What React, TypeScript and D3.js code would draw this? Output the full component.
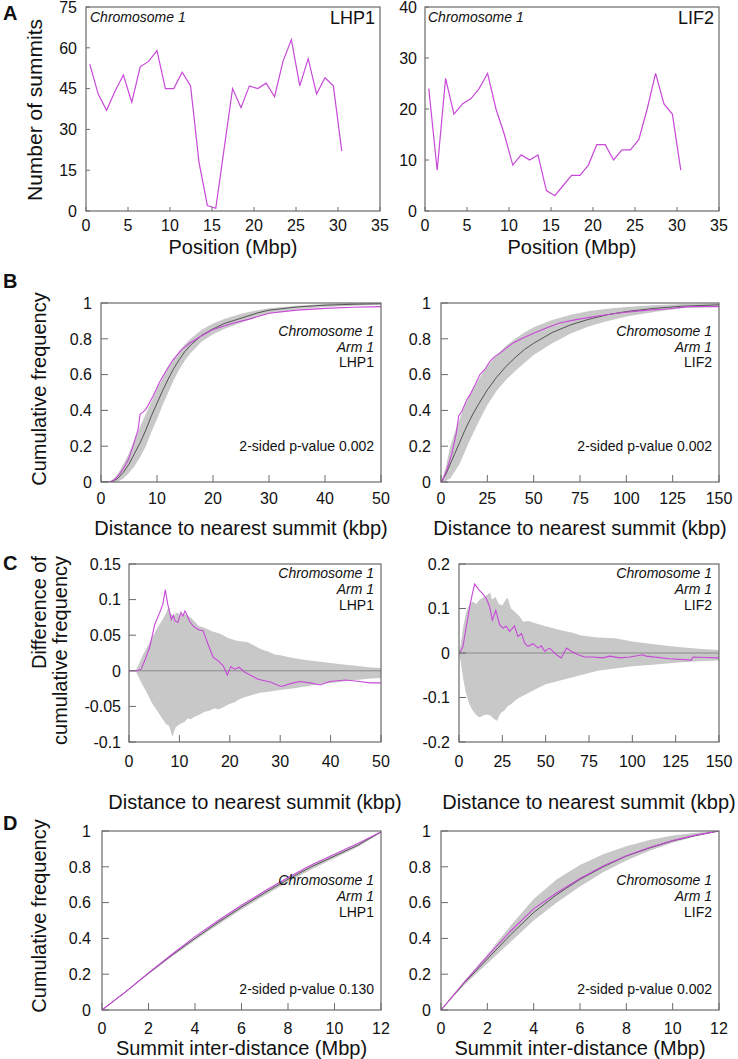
import React from "react";
import * as d3 from "d3";

const FONT = "'Liberation Sans', Arial, Helvetica, sans-serif";
const MAGENTA = "#c848d8";
const BAND = "#c8c8c8";
const EXPECTED = "#454545";
const AXIS = "#6a6a6a";

type Pt = [number, number];

// ---------- Panel A: number of summits per 1-Mbp bin ----------
const binMid = [0.45, 1.45, 2.45, 3.45, 4.45, 5.45, 6.45, 7.45, 8.45, 9.45, 10.45, 11.45, 12.45, 13.45, 14.45, 15.45,
  16.45, 17.45, 18.45, 19.45, 20.45, 21.45, 22.45, 23.45, 24.45, 25.45, 26.45, 27.45, 28.45, 29.45, 30.45];
const summitsLHP1 = [54, 43, 37, 44, 50, 40, 53, 55, 59, 45, 45, 51, 46, 18, 2, 1, 23, 45, 38, 46, 45, 47, 42, 55, 63, 46, 56, 43, 49, 46, 22];
const summitsLIF2 = [24, 8, 26, 19, 21, 22, 24, 27, 20, 15, 9, 11, 10, 11, 4, 3, 5, 7, 7, 9, 13, 13, 10, 12, 12, 14, 20, 27, 21, 19, 8];
const aXTicks = [0, 5, 10, 15, 20, 25, 30, 35];
const aYTicksLHP1 = [0, 15, 30, 45, 60, 75];
const aYTicksLIF2 = [0, 10, 20, 30, 40];

// ---------- Panel B: cumulative frequency of distance to nearest summit ----------
const bObsLHP1: Pt[] = [[0, 0], [1.6, 0], [2.5, 0.015], [3.4, 0.048], [4.2, 0.085], [4.9, 0.125], [5.7, 0.2], [6.6, 0.29], [7.0, 0.38],
  [7.5, 0.39], [8.1, 0.41], [9.3, 0.48], [10.5, 0.56], [11.7, 0.625], [12.8, 0.68], [14.3, 0.737], [15.8, 0.775], [17.6, 0.81],
  [19.9, 0.85], [23.5, 0.887], [26.5, 0.91], [30, 0.943], [35, 0.96], [40, 0.97], [45, 0.976], [50, 0.98]];
const bExpLHP1: Pt[] = [[0, 0], [1.5, 0], [2, 0.003], [3, 0.02], [4, 0.055], [5, 0.1], [6, 0.16], [7, 0.22], [8, 0.29], [9, 0.37],
  [10, 0.44], [11, 0.51], [12, 0.575], [13, 0.635], [14, 0.685], [15, 0.73], [16, 0.765], [18, 0.82], [20, 0.855], [22, 0.885],
  [25, 0.915], [28, 0.945], [30, 0.96], [35, 0.978], [40, 0.988], [45, 0.993], [50, 0.996]];
const bHiLHP1: Pt[] = [[0, 0], [1, 0], [2, 0.01], [3, 0.045], [4, 0.1], [5, 0.16], [6, 0.24], [7, 0.31], [8, 0.38], [9, 0.45],
  [10, 0.52], [11, 0.58], [12, 0.635], [13, 0.685], [14, 0.73], [15, 0.77], [16, 0.8], [18, 0.85], [20, 0.885], [22, 0.91],
  [25, 0.94], [28, 0.96], [30, 0.97], [35, 0.985], [40, 0.995], [45, 1.0], [50, 1.0]];
const bLoLHP1: Pt[] = [[0, 0], [2, 0], [3, 0.002], [4, 0.02], [5, 0.05], [6, 0.09], [7, 0.14], [8, 0.2], [9, 0.28], [10, 0.35],
  [11, 0.43], [12, 0.5], [13, 0.57], [14, 0.63], [15, 0.68], [16, 0.72], [18, 0.785], [20, 0.825], [22, 0.855], [25, 0.89],
  [28, 0.925], [30, 0.94], [35, 0.965], [40, 0.978], [45, 0.985], [50, 0.99]];

const bObsLIF2: Pt[] = [[0, 0], [0.5, 0], [3.2, 0.07], [5.9, 0.16], [8.2, 0.27], [9.5, 0.367], [11.25, 0.395], [13.9, 0.46],
  [15.7, 0.488], [18.4, 0.544], [21, 0.6], [23.75, 0.63], [26.4, 0.674], [29.1, 0.702], [31.8, 0.72], [35.4, 0.749],
  [38.9, 0.777], [44.3, 0.804], [49.6, 0.829], [56.8, 0.86], [64, 0.888], [72.9, 0.907], [83.6, 0.926], [96, 0.944],
  [110, 0.959], [123, 0.968], [133.6, 0.98], [150, 0.98]];
const bExpLIF2: Pt[] = [[0, 0], [2.5, 0.04], [5, 0.1], [7.5, 0.16], [10, 0.22], [12.5, 0.28], [15, 0.335], [17.5, 0.385], [20, 0.43],
  [25, 0.515], [30, 0.585], [35, 0.645], [40, 0.695], [45, 0.74], [50, 0.775], [60, 0.835], [70, 0.878], [80, 0.91], [90, 0.935],
  [100, 0.952], [115, 0.97], [130, 0.982], [150, 0.99]];
const bHiLIF2: Pt[] = [[0, 0], [2.5, 0.08], [5, 0.2], [7.5, 0.28], [10, 0.35], [12.5, 0.42], [15, 0.48], [20, 0.57], [25, 0.645],
  [30, 0.71], [35, 0.76], [40, 0.8], [45, 0.835], [50, 0.865], [60, 0.905], [70, 0.935], [80, 0.955], [90, 0.968], [100, 0.978],
  [115, 0.988], [130, 0.994], [150, 0.997]];
const bLoLIF2: Pt[] = [[0, 0], [2.5, 0.005], [5, 0.02], [7.5, 0.06], [10, 0.1], [12.5, 0.16], [15, 0.22], [20, 0.33], [25, 0.43],
  [30, 0.51], [35, 0.57], [40, 0.62], [45, 0.665], [50, 0.71], [60, 0.775], [70, 0.83], [80, 0.87], [90, 0.9], [100, 0.925],
  [115, 0.95], [130, 0.97], [150, 0.98]];

// ---------- Panel C: difference of cumulative frequency ----------
const cObsLHP1: Pt[] = [[0, 0], [1.5, 0], [2.4, 0.002], [3.1, 0.014], [4.1, 0.033], [5.1, 0.065], [6.1, 0.082], [6.7, 0.093],
  [7.2, 0.114], [7.7, 0.093], [8.4, 0.072], [8.8, 0.078], [9.1, 0.07], [9.7, 0.068], [10.3, 0.082], [10.7, 0.077], [11.1, 0.084],
  [11.4, 0.08], [12, 0.07], [12.7, 0.063], [13.7, 0.058], [14.7, 0.056], [15.7, 0.037], [16.7, 0.019], [17.7, 0.014], [18.7, 0.007],
  [19.5, -0.006], [20.2, 0.006], [21, 0.002], [21.8, 0.005], [23, -0.002], [24.3, -0.007], [25.6, -0.012], [26.9, -0.014],
  [28.2, -0.016], [29.4, -0.02], [30.3, -0.022], [32, -0.018], [33.9, -0.015], [35.9, -0.017], [37.9, -0.02], [39.9, -0.015],
  [43, -0.013], [45.8, -0.015], [47.8, -0.017], [50, -0.017]];
const cHiLHP1: Pt[] = [[0, 0], [1.3, 0], [2, 0.01], [2.6, 0.02], [3.5, 0.032], [4.3, 0.043], [5, 0.052], [5.6, 0.06], [6.3, 0.068],
  [6.9, 0.075], [7.4, 0.082], [7.9, 0.09], [8.3, 0.08], [8.9, 0.077], [9.5, 0.082], [10.3, 0.078], [11, 0.08], [11.8, 0.077],
  [12.5, 0.073], [13.2, 0.068], [13.8, 0.063], [14.7, 0.061], [15.7, 0.058], [16.7, 0.055], [17.7, 0.053], [18.7, 0.05],
  [19.6, 0.046], [20.6, 0.044], [21.6, 0.042], [22.6, 0.041], [23.6, 0.04], [25, 0.035], [26.3, 0.03], [27.6, 0.027],
  [28.9, 0.023], [30, 0.022], [32.5, 0.018], [35, 0.015], [37.5, 0.013], [40, 0.011], [42.5, 0.009], [45, 0.007], [47.5, 0.005], [50, 0.004]];
const cLoLHP1: Pt[] = [[0, 0], [1.3, 0], [2, -0.01], [2.6, -0.019], [3.5, -0.03], [4.3, -0.042], [5, -0.05], [5.6, -0.056],
  [6.3, -0.064], [6.9, -0.07], [7.4, -0.075], [7.9, -0.077], [8.3, -0.085], [8.6, -0.093], [9, -0.084], [9.3, -0.079],
  [10.3, -0.074], [11, -0.072], [11.6, -0.067], [12.3, -0.068], [12.9, -0.065], [13.9, -0.062], [14.9, -0.058], [15.9, -0.056],
  [16.9, -0.053], [17.8, -0.054], [18.8, -0.051], [19.8, -0.047], [20.9, -0.044], [21.9, -0.04], [22.9, -0.037], [23.9, -0.035],
  [24.9, -0.033], [26, -0.031], [26.9, -0.03], [28, -0.029], [28.9, -0.028], [30, -0.027], [32.5, -0.025], [35, -0.022],
  [37.5, -0.019], [40, -0.017], [42.5, -0.015], [45, -0.013], [47.5, -0.011], [50, -0.01]];

const cObsLIF2: Pt[] = [[0, 0], [1, 0.004], [2.3, 0.015], [4.2, 0.06], [6.2, 0.104], [7.7, 0.133], [9, 0.155], [10.4, 0.148],
  [11.9, 0.14], [13.8, 0.133], [15.8, 0.122], [17.7, 0.104], [19.2, 0.074], [21.2, 0.096], [23.5, 0.063], [25.4, 0.056],
  [27.3, 0.06], [29.2, 0.048], [32, 0.061], [34, 0.037], [36, 0.044], [37.9, 0.022], [39.8, 0.015], [42.7, 0.021], [45.6, 0.011],
  [47.5, 0.016], [49.4, 0.004], [52.3, 0.011], [56.2, -0.004], [59, -0.011], [62, 0.011], [64.8, 0.004], [68.7, -0.004],
  [72.5, -0.009], [77.3, -0.009], [83, -0.011], [87, -0.007], [92.7, -0.011], [98.5, -0.009], [106, -0.004], [108, -0.007],
  [121.5, -0.013], [134, -0.016], [135, -0.009], [142.7, -0.01], [150, -0.011]];
const cHiLIF2: Pt[] = [[0, 0], [1, 0.02], [2.5, 0.06], [4, 0.09], [6, 0.11], [8, 0.115], [10, 0.11], [12, 0.12], [14, 0.125],
  [16, 0.13], [18, 0.136], [19, 0.12], [21, 0.126], [23, 0.11], [25, 0.107], [27, 0.12], [28, 0.125], [30, 0.1], [33, 0.09],
  [35, 0.082], [37, 0.07], [40, 0.072], [45, 0.066], [50, 0.06], [55, 0.055], [60, 0.05], [65, 0.046], [70, 0.04], [75, 0.037],
  [80, 0.035], [90, 0.033], [100, 0.026], [110, 0.021], [125, 0.014], [140, 0.009], [150, 0.007]];
const cLoLIF2: Pt[] = [[0, 0], [1, -0.02], [2.5, -0.06], [4, -0.09], [6, -0.115], [8, -0.13], [10, -0.14], [12, -0.145],
  [14, -0.14], [16, -0.138], [18, -0.14], [20, -0.148], [22, -0.152], [24, -0.135], [26, -0.13], [28, -0.12], [30, -0.115],
  [33, -0.105], [35, -0.1], [40, -0.09], [45, -0.08], [50, -0.07], [55, -0.065], [60, -0.06], [65, -0.055], [70, -0.05],
  [75, -0.045], [80, -0.04], [90, -0.035], [100, -0.03], [110, -0.027], [125, -0.022], [140, -0.018], [150, -0.017]];

// ---------- Panel D: cumulative frequency of summit inter-distance ----------
const dX = [0, 1, 2, 3, 4, 5, 6, 7, 8, 9, 10, 11, 12];
const dExpLHP1 = [0, 0.1, 0.205, 0.305, 0.4, 0.49, 0.575, 0.655, 0.73, 0.8, 0.86, 0.92, 0.995];
const dObsLHP1 = [0, 0.1, 0.207, 0.31, 0.41, 0.5, 0.585, 0.665, 0.74, 0.81, 0.87, 0.93, 0.995];
const dHiLHP1 = [0, 0.1, 0.206, 0.308, 0.405, 0.497, 0.582, 0.662, 0.737, 0.807, 0.868, 0.928, 0.997];
const dLoLHP1 = [0, 0.098, 0.2, 0.297, 0.39, 0.478, 0.562, 0.64, 0.715, 0.785, 0.848, 0.91, 0.99];
const dExpLIF2 = [0, 0.15, 0.285, 0.42, 0.545, 0.645, 0.73, 0.8, 0.86, 0.905, 0.945, 0.975, 1.0];
const dObsLIF2 = [0, 0.155, 0.3, 0.44, 0.565, 0.655, 0.735, 0.805, 0.862, 0.908, 0.947, 0.977, 1.0];
const dHiLIF2 = [0, 0.16, 0.31, 0.47, 0.62, 0.73, 0.81, 0.87, 0.915, 0.95, 0.975, 0.99, 1.0];
const dLoLIF2 = [0, 0.14, 0.26, 0.38, 0.5, 0.6, 0.69, 0.77, 0.835, 0.89, 0.935, 0.97, 1.0];

const cdfTicks = [0, 0.2, 0.4, 0.6, 0.8, 1];
const bXTicksLHP1 = [0, 10, 20, 30, 40, 50];
const bXTicksLIF2 = [0, 25, 50, 75, 100, 125, 150];
const cYTicksLHP1 = [-0.1, -0.05, 0, 0.05, 0.1, 0.15];
const cYTicksLIF2 = [-0.2, -0.1, 0, 0.1, 0.2];
const dXTicks = [0, 2, 4, 6, 8, 10, 12];

type Scale = d3.ScaleLinear<number, number>;

interface PanelCfg {
  id: string;
  x0: number; x1: number; y0: number; y1: number;
  xDomain: [number, number]; yDomain: [number, number];
  xTicks: number[]; yTicks: number[];
  tickLen: number; yGap: number; xTickBase: number;
}

function Panel({ cfg, children }: { cfg: PanelCfg; children: (xs: Scale, ys: Scale) => React.ReactNode }) {
  const xs = d3.scaleLinear().domain(cfg.xDomain).range([cfg.x0, cfg.x1]);
  const ys = d3.scaleLinear().domain(cfg.yDomain).range([cfg.y1, cfg.y0]);
  return (
    <g>
      <defs>
        <clipPath id={"clip-" + cfg.id}>
          <rect x={cfg.x0} y={cfg.y0} width={cfg.x1 - cfg.x0} height={cfg.y1 - cfg.y0} />
        </clipPath>
      </defs>
      <g clipPath={`url(#clip-${cfg.id})`}>{children(xs, ys)}</g>
      {cfg.xTicks.map((t) => (
        <g key={"xt" + t}>
          <line x1={xs(t)} x2={xs(t)} y1={cfg.y1} y2={cfg.y1 - cfg.tickLen} stroke={AXIS} strokeWidth={1} />
          <text x={xs(t)} y={cfg.xTickBase} textAnchor="middle" fontSize={16} fontFamily={FONT} fill="#111">{String(t)}</text>
        </g>
      ))}
      {cfg.yTicks.map((t) => (
        <g key={"yt" + t}>
          <line x1={cfg.x0} x2={cfg.x0 + cfg.tickLen} y1={ys(t)} y2={ys(t)} stroke={AXIS} strokeWidth={1} />
          <text x={cfg.x0 - cfg.yGap} y={ys(t)} dy="0.36em" textAnchor="end" fontSize={16} fontFamily={FONT} fill="#111">{String(t)}</text>
        </g>
      ))}
      <rect x={cfg.x0} y={cfg.y0} width={cfg.x1 - cfg.x0} height={cfg.y1 - cfg.y0} fill="none" stroke={AXIS} strokeWidth={1.2} />
    </g>
  );
}

function linePath(xs: Scale, ys: Scale, pts: Pt[]) {
  return d3.line<Pt>().x((d) => xs(d[0])).y((d) => ys(d[1]))(pts) || "";
}
function bandPath(xs: Scale, ys: Scale, hi: Pt[], lo: Pt[]) {
  const poly = [...hi, ...lo.slice().reverse()];
  return (d3.line<Pt>().x((d) => xs(d[0])).y((d) => ys(d[1]))(poly) || "") + "Z";
}
const zip = (x: number[], y: number[]): Pt[] => x.map((v, i) => [v, y[i]] as Pt);

function Notes({ x, lines }: { x: number; lines: { t: string; y: number; italic?: boolean }[] }) {
  return (
    <g>
      {lines.map((l) => (
        <text key={l.t + l.y} x={x} y={l.y} textAnchor="end" fontSize={14} fontFamily={FONT}
          fontStyle={l.italic ? "italic" : "normal"} fill="#111">{l.t}</text>
      ))}
    </g>
  );
}

function cdfLayers(hi: Pt[], lo: Pt[], exp: Pt[], obs: Pt[]) {
  return (xs: Scale, ys: Scale) => (
    <g>
      <path d={bandPath(xs, ys, hi, lo)} fill={BAND} stroke="none" />
      <path d={linePath(xs, ys, exp)} fill="none" stroke={EXPECTED} strokeWidth={0.9} />
      <path d={linePath(xs, ys, obs)} fill="none" stroke={MAGENTA} strokeWidth={1.1} />
    </g>
  );
}
function diffLayers(hi: Pt[], lo: Pt[], obs: Pt[], xmax: number) {
  return (xs: Scale, ys: Scale) => (
    <g>
      <path d={bandPath(xs, ys, hi, lo)} fill={BAND} stroke="none" />
      <line x1={xs(0)} x2={xs(xmax)} y1={ys(0)} y2={ys(0)} stroke="#8a8a8a" strokeWidth={1} />
      <path d={linePath(xs, ys, obs)} fill="none" stroke={MAGENTA} strokeWidth={1.1} />
    </g>
  );
}

export default function App() {
  const aL: PanelCfg = { id: "aL", x0: 86, x1: 380, y0: 7, y1: 211, xDomain: [0, 35], yDomain: [0, 75], xTicks: aXTicks, yTicks: aYTicksLHP1, tickLen: 4, yGap: 9, xTickBase: 231 };
  const aR: PanelCfg = { id: "aR", x0: 425, x1: 719, y0: 7, y1: 211, xDomain: [0, 35], yDomain: [0, 40], xTicks: aXTicks, yTicks: aYTicksLIF2, tickLen: 4, yGap: 8, xTickBase: 231 };
  const bL: PanelCfg = { id: "bL", x0: 101, x1: 381, y0: 303, y1: 482, xDomain: [0, 50], yDomain: [0, 1], xTicks: bXTicksLHP1, yTicks: cdfTicks, tickLen: 7, yGap: 9, xTickBase: 504 };
  const bR: PanelCfg = { id: "bR", x0: 441, x1: 719, y0: 303, y1: 482, xDomain: [0, 150], yDomain: [0, 1], xTicks: bXTicksLIF2, yTicks: cdfTicks, tickLen: 7, yGap: 10, xTickBase: 504 };
  const cL: PanelCfg = { id: "cL", x0: 129, x1: 381, y0: 564, y1: 742, xDomain: [0, 50], yDomain: [-0.1, 0.15], xTicks: bXTicksLHP1, yTicks: cYTicksLHP1, tickLen: 7, yGap: 8, xTickBase: 767 };
  const cR: PanelCfg = { id: "cR", x0: 459, x1: 719, y0: 564, y1: 742, xDomain: [0, 150], yDomain: [-0.2, 0.2], xTicks: bXTicksLIF2, yTicks: cYTicksLIF2, tickLen: 7, yGap: 9, xTickBase: 767 };
  const dL: PanelCfg = { id: "dL", x0: 102, x1: 381, y0: 831, y1: 1010, xDomain: [0, 12], yDomain: [0, 1], xTicks: dXTicks, yTicks: cdfTicks, tickLen: 7, yGap: 11, xTickBase: 1034 };
  const dR: PanelCfg = { id: "dR", x0: 441, x1: 719, y0: 831, y1: 1010, xDomain: [0, 12], yDomain: [0, 1], xTicks: dXTicks, yTicks: cdfTicks, tickLen: 7, yGap: 10, xTickBase: 1034 };

  const title = (x: number, y: number, t: string) => (
    <text x={x} y={y} textAnchor="middle" fontSize={20} fontFamily={FONT} fill="#111">{t}</text>
  );
  const letter = (y: number, t: string) => (
    <text x={3} y={y} fontSize={20} fontWeight="bold" fontFamily={FONT} fill="#111">{t}</text>
  );
  const cmid = (c: PanelCfg) => (c.x0 + c.x1) / 2;

  const notesCD = (c: PanelCfg, name: string, ys: number[]) => (
    <Notes x={c.x1 - 7} lines={[
      { t: "Chromosome 1", y: ys[0], italic: true },
      { t: "Arm 1", y: ys[1], italic: true },
      { t: name, y: ys[2] },
    ]} />
  );

  return (
    <svg width={738} height={1059} viewBox="0 0 738 1059" style={{ position: "absolute", left: 0, top: 0, background: "#fff" }}>
      <rect x={0} y={0} width={738} height={1059} fill="#fff" />
      {/* Panel A */}
      {letter(20, "A")}
      <Panel cfg={aL}>{(xs, ys) => (
        <path d={linePath(xs, ys, zip(binMid, summitsLHP1))} fill="none" stroke={MAGENTA} strokeWidth={1.2} />
      )}</Panel>
      <Panel cfg={aR}>{(xs, ys) => (
        <path d={linePath(xs, ys, zip(binMid, summitsLIF2))} fill="none" stroke={MAGENTA} strokeWidth={1.2} />
      )}</Panel>
      <text x={aL.x0 + 4} y={22} fontSize={14} fontStyle="italic" fontFamily={FONT} fill="#111">Chromosome 1</text>
      <text x={aR.x0 + 3} y={22} fontSize={14} fontStyle="italic" fontFamily={FONT} fill="#111">Chromosome 1</text>
      <text x={aL.x1 - 5} y={24} textAnchor="end" fontSize={18} fontFamily={FONT} fill="#111">LHP1</text>
      <text x={aR.x1 - 5} y={24} textAnchor="end" fontSize={18} fontFamily={FONT} fill="#111">LIF2</text>
      <text transform="translate(42,110) rotate(-90)" textAnchor="middle" fontSize={21} fontFamily={FONT} fill="#111">Number of summits</text>
      {title(cmid(aL), 254, "Position (Mbp)")}
      {title(cmid(aR), 254, "Position (Mbp)")}

      {/* Panel B */}
      {letter(288, "B")}
      <Panel cfg={bL}>{cdfLayers(bHiLHP1, bLoLHP1, bExpLHP1, bObsLHP1)}</Panel>
      <Panel cfg={bR}>{cdfLayers(bHiLIF2, bLoLIF2, bExpLIF2, bObsLIF2)}</Panel>
      {notesCD(bL, "LHP1", [336, 352, 367])}
      {notesCD(bR, "LIF2", [336, 352, 367])}
      <Notes x={bL.x1 - 7} lines={[{ t: "2-sided p-value 0.002", y: 451 }]} />
      <Notes x={bR.x1 - 7} lines={[{ t: "2-sided p-value 0.002", y: 451 }]} />
      <text transform="translate(46,389) rotate(-90)" textAnchor="middle" fontSize={20} fontFamily={FONT} fill="#111">Cumulative frequency</text>
      {title(cmid(bL), 535, "Distance to nearest summit (kbp)")}
      {title(cmid(bR), 535, "Distance to nearest summit (kbp)")}

      {/* Panel C */}
      {letter(570, "C")}
      <Panel cfg={cL}>{diffLayers(cHiLHP1, cLoLHP1, cObsLHP1, 50)}</Panel>
      <Panel cfg={cR}>{diffLayers(cHiLIF2, cLoLIF2, cObsLIF2, 150)}</Panel>
      {notesCD(cL, "LHP1", [578, 594, 610])}
      {notesCD(cR, "LIF2", [578, 594, 610])}
      <text transform="translate(46,556) rotate(-90)" textAnchor="end" fontSize={20} fontFamily={FONT} fill="#111">Difference of</text>
      <text transform="translate(67,556) rotate(-90)" textAnchor="end" fontSize={20} fontFamily={FONT} fill="#111">cumulative frequency</text>
      {title(cmid(cL), 809, "Distance to nearest summit (kbp)")}
      {title(cmid(cR), 809, "Distance to nearest summit (kbp)")}

      {/* Panel D */}
      {letter(830, "D")}
      <Panel cfg={dL}>{cdfLayers(zip(dX, dHiLHP1), zip(dX, dLoLHP1), zip(dX, dExpLHP1), zip(dX, dObsLHP1))}</Panel>
      <Panel cfg={dR}>{cdfLayers(zip(dX, dHiLIF2), zip(dX, dLoLIF2), zip(dX, dExpLIF2), zip(dX, dObsLIF2))}</Panel>
      {notesCD(dL, "LHP1", [885, 901, 917])}
      {notesCD(dR, "LIF2", [885, 901, 917])}
      <Notes x={dL.x1 - 7} lines={[{ t: "2-sided p-value 0.130", y: 994 }]} />
      <Notes x={dR.x1 - 7} lines={[{ t: "2-sided p-value 0.002", y: 994 }]} />
      <text transform="translate(46,916) rotate(-90)" textAnchor="middle" fontSize={20} fontFamily={FONT} fill="#111">Cumulative frequency</text>
      {title(cmid(dL), 1055, "Summit inter-distance (Mbp)")}
      {title(cmid(dR), 1055, "Summit inter-distance (Mbp)")}
    </svg>
  );
}
